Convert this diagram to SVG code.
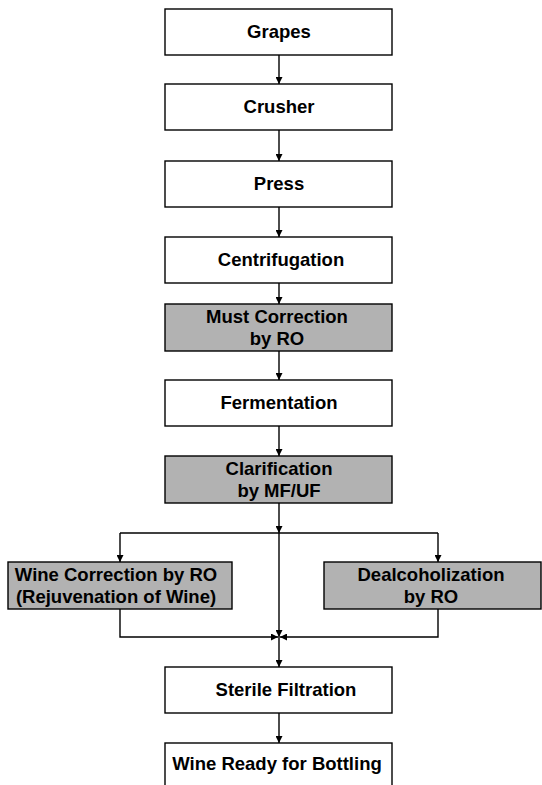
<svg xmlns="http://www.w3.org/2000/svg" width="542" height="785" viewBox="0 0 542 785">
<defs>
<marker id="ah" viewBox="0 0 10 10" refX="10" refY="5" markerWidth="7" markerHeight="7" markerUnits="userSpaceOnUse" orient="auto">
<path d="M0,0 L10,5 L0,10 z" fill="#000"/>
</marker>
<style>
.box{fill:#fff;stroke:#000;stroke-width:1.4}
.grey{fill:#b2b2b2;stroke:#000;stroke-width:1.4}
.t{font-family:"Liberation Sans",Arial,sans-serif;font-weight:bold;font-size:18.5px;text-anchor:middle;fill:#000}
.c{stroke:#000;stroke-width:1.4;fill:none}
.a{marker-end:url(#ah)}
</style>
</defs>
<rect width="542" height="785" fill="#fff"/>
<g id="connectors">
<line class="c a" x1="279" y1="55" x2="279" y2="84"/>
<line class="c a" x1="279" y1="130" x2="279" y2="161"/>
<line class="c a" x1="279" y1="207" x2="279" y2="237"/>
<line class="c a" x1="279" y1="283" x2="279" y2="304"/>
<line class="c a" x1="279" y1="351" x2="279" y2="380"/>
<line class="c a" x1="279" y1="426" x2="279" y2="456"/>
<line class="c a" x1="279" y1="503" x2="279" y2="533"/>
<line class="c" x1="120" y1="533" x2="438" y2="533"/>
<line class="c a" x1="120" y1="533" x2="120" y2="562"/>
<line class="c a" x1="438" y1="533" x2="438" y2="562"/>
<line class="c a" x1="279" y1="533" x2="279" y2="637"/>
<line class="c a" x1="279" y1="637" x2="279" y2="667"/>
<polyline class="c a" points="120,609 120,637 278,637"/>
<polyline class="c a" points="438,609 438,637 280,637"/>
<line class="c a" x1="279" y1="713" x2="279" y2="743"/>
</g>
<g id="grapes"><rect class="box" x="165" y="9" width="227" height="46"/><text class="t" x="279" y="38">Grapes</text></g>
<g id="crusher"><rect class="box" x="165" y="84" width="227" height="46"/><text class="t" x="279" y="113">Crusher</text></g>
<g id="press"><rect class="box" x="165" y="161" width="227" height="46"/><text class="t" x="279" y="190">Press</text></g>
<g id="centrifugation"><rect class="box" x="165" y="237" width="227" height="46"/><text class="t" x="281" y="266">Centrifugation</text></g>
<g id="must"><rect class="grey" x="165" y="304" width="227" height="47"/><text class="t" x="277" y="323">Must Correction</text><text class="t" x="277" y="345">by RO</text></g>
<g id="fermentation"><rect class="box" x="165" y="380" width="227" height="46"/><text class="t" x="279" y="409">Fermentation</text></g>
<g id="clarification"><rect class="grey" x="165" y="456" width="227" height="47"/><text class="t" x="279" y="475">Clarification</text><text class="t" x="279" y="497">by MF/UF</text></g>
<g id="winecorrection"><rect class="grey" x="8" y="562" width="224" height="47"/><text class="t" x="116" y="581">Wine Correction by RO</text><text class="t" x="116" y="603">(Rejuvenation of Wine)</text></g>
<g id="dealcoholization"><rect class="grey" x="324" y="562" width="217" height="47"/><text class="t" x="431" y="581">Dealcoholization</text><text class="t" x="431" y="603">by RO</text></g>
<g id="sterile"><rect class="box" x="165" y="667" width="227" height="46"/><text class="t" x="286" y="696">Sterile Filtration</text></g>
<g id="ready"><rect class="box" x="165" y="743" width="227" height="50"/><text class="t" x="277" y="770">Wine Ready for Bottling</text></g>
</svg>
